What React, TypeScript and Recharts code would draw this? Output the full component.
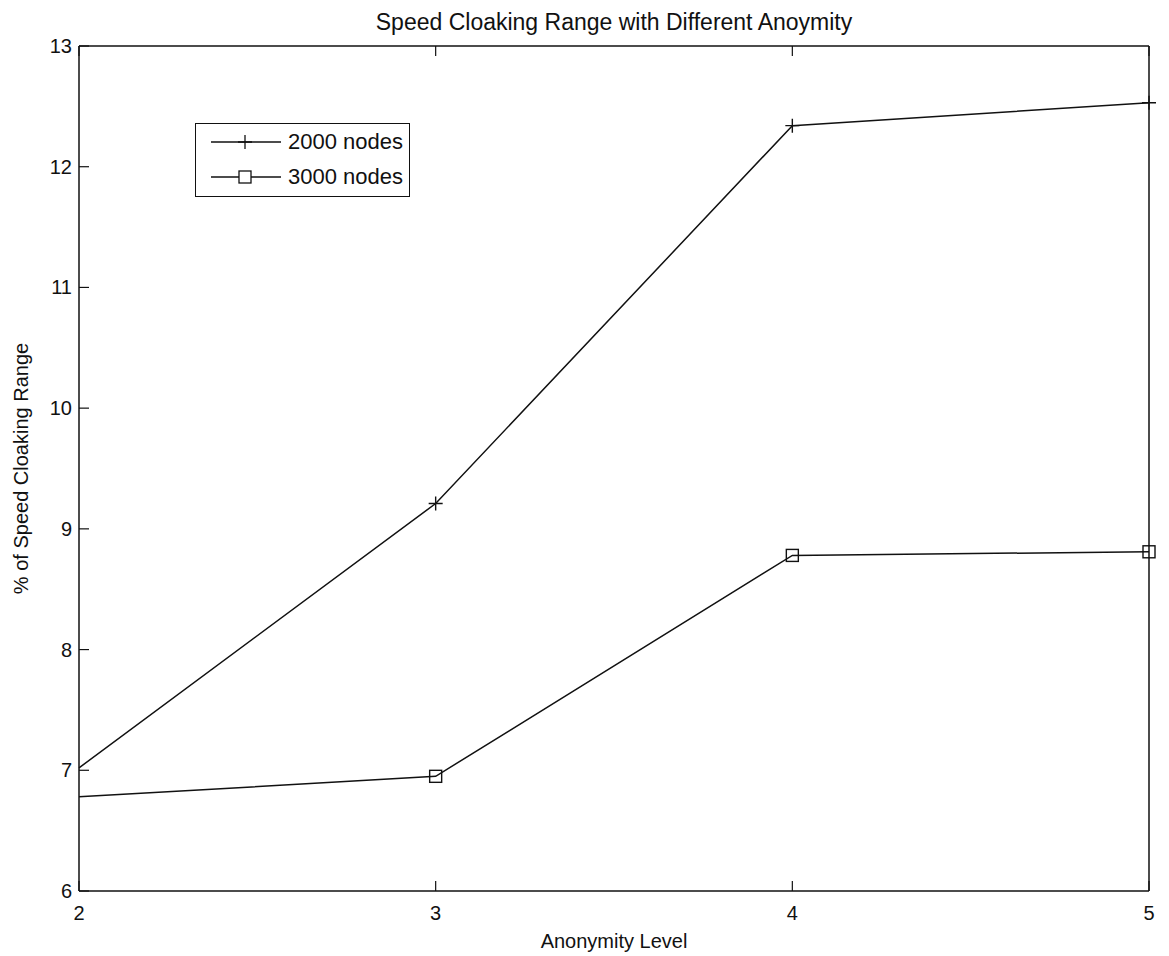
import { LineChart, Line, XAxis, YAxis } from 'recharts';

const levels = [2, 3, 4, 5];
const nodes2000 = [7.02, 9.21, 12.34, 12.53];
const nodes3000 = [6.78, 6.95, 8.78, 8.81];
const xTicks = [2, 3, 4, 5];
const yTicks = [6, 7, 8, 9, 10, 11, 12, 13];

const data = levels.map((lvl, i) => ({ lvl, n2000: nodes2000[i], n3000: nodes3000[i] }));

const FONT = 'Arial, "Liberation Sans", Helvetica, sans-serif';
const INK = '#111';
const TICK = 10;

// MATLAB style: ticks point into the plot box
const BottomTick = ({ x, y, payload }: any) => (
   <g>
      <line x1={x} y1={y} x2={x} y2={y - TICK} stroke={INK} strokeWidth={1.2} />
      <text x={x} y={y + 29} textAnchor="middle" fontSize={20} fontFamily={FONT} fill={INK}>
         {payload.value}
      </text>
   </g>
);

const TopTick = ({ x, y }: any) => (
   <line x1={x} y1={y} x2={x} y2={y + TICK} stroke={INK} strokeWidth={1.2} />
);

const LeftTick = ({ x, y, payload }: any) => (
   <g>
      <line x1={x} y1={y} x2={x + TICK} y2={y} stroke={INK} strokeWidth={1.2} />
      <text x={x - 7} y={y + 7} textAnchor="end" fontSize={20} fontFamily={FONT} fill={INK}>
         {payload.value}
      </text>
   </g>
);

const RightTick = ({ x, y }: any) => (
   <line x1={x} y1={y} x2={x - TICK} y2={y} stroke={INK} strokeWidth={1.2} />
);

const plusDot = (p: any) => {
   if (p.index === 0) return <g key={p.index} />;
   return (
      <path
         key={p.index}
         d={`M${p.cx - 7},${p.cy}H${p.cx + 7}M${p.cx},${p.cy - 7}V${p.cy + 7}`}
         stroke={INK}
         strokeWidth={1.4}
         fill="none"
      />
   );
};

const squareDot = (p: any) => {
   if (p.index === 0) return <g key={p.index} />;
   return (
      <rect key={p.index} x={p.cx - 6} y={p.cy - 6} width={12} height={12} stroke={INK} strokeWidth={1.4} fill="none" />
   );
};

const TitleLabel = ({ viewBox }: any) => (
   <text x={viewBox.x + viewBox.width / 2} y={viewBox.y - 15} textAnchor="middle" fontSize={23} fontFamily={FONT} fill={INK}>
      Speed Cloaking Range with Different Anoymity
   </text>
);

const XLabel = ({ viewBox }: any) => (
   <text x={viewBox.x + viewBox.width / 2} y={viewBox.y + 57} textAnchor="middle" fontSize={20} fontFamily={FONT} fill={INK}>
      Anonymity Level
   </text>
);

const YLabel = ({ viewBox }: any) => (
   <text
      transform={`translate(${viewBox.x - 57},${viewBox.y + viewBox.height / 2}) rotate(-90)`}
      textAnchor="middle"
      dominantBaseline="central"
      fontSize={20}
      fontFamily={FONT}
      fill={INK}
   >
      % of Speed Cloaking Range
   </text>
);

function LegendBox() {
   const row = (label: string, marker: 'plus' | 'square', top: number) => (
      <div style={{ position: 'absolute', left: 0, top, height: 24, display: 'flex', alignItems: 'center' }}>
         <svg width={92} height={24} style={{ flex: 'none' }}>
            <line x1={15} y1={12} x2={85} y2={12} stroke={INK} strokeWidth={1.3} />
            {marker === 'plus' ? (
               <path d="M49,5V19M42,12H56" stroke={INK} strokeWidth={1.3} />
            ) : (
               <rect x={43} y={6} width={12} height={12} stroke={INK} strokeWidth={1.3} fill="white" />
            )}
         </svg>
         <span style={{ fontSize: 22, fontFamily: FONT, color: INK, whiteSpace: 'nowrap' }}>{label}</span>
      </div>
   );
   return (
      <div
         style={{
            position: 'absolute',
            left: 195,
            top: 123,
            width: 215,
            height: 74,
            boxSizing: 'border-box',
            border: `1.5px solid ${INK}`,
            background: 'white',
         }}
      >
         {row('2000 nodes', 'plus', 6)}
         {row('3000 nodes', 'square', 41)}
      </div>
   );
}

export default function App() {
   return (
      <div style={{ position: 'absolute', left: 0, top: 0, width: 1169, height: 956, background: 'white' }}>
         <LineChart width={1169} height={956} data={data} margin={{ top: 45, right: 19, bottom: 64, left: 78 }}>
            <XAxis
               xAxisId="bottom"
               dataKey="lvl"
               type="number"
               domain={[2, 5]}
               ticks={xTicks}
               height={1}
               tickSize={0}
               tickMargin={0}
               tickLine={false}
               tick={<BottomTick />}
               axisLine={{ stroke: INK, strokeWidth: 1.5 }}
               label={(p: any) => <XLabel viewBox={p.viewBox} />}
            />
            <XAxis
               xAxisId="top"
               orientation="top"
               dataKey="lvl"
               type="number"
               domain={[2, 5]}
               ticks={xTicks}
               height={1}
               tickSize={0}
               tickMargin={0}
               tickLine={false}
               tick={<TopTick />}
               axisLine={{ stroke: INK, strokeWidth: 1.5 }}
               label={(p: any) => <TitleLabel viewBox={p.viewBox} />}
            />
            <YAxis
               yAxisId="left"
               type="number"
               domain={[6, 13]}
               ticks={yTicks}
               width={1}
               tickSize={0}
               tickMargin={0}
               tickLine={false}
               tick={<LeftTick />}
               axisLine={{ stroke: INK, strokeWidth: 1.5 }}
               label={(p: any) => <YLabel viewBox={p.viewBox} />}
            />
            <YAxis
               yAxisId="right"
               orientation="right"
               type="number"
               domain={[6, 13]}
               ticks={yTicks}
               width={1}
               tickSize={0}
               tickMargin={0}
               tickLine={false}
               tick={<RightTick />}
               axisLine={{ stroke: INK, strokeWidth: 1.5 }}
            />
            <Line
               xAxisId="bottom"
               yAxisId="left"
               type="linear"
               dataKey="n2000"
               stroke={INK}
               strokeWidth={1.5}
               dot={plusDot}
               isAnimationActive={false}
            />
            <Line
               xAxisId="bottom"
               yAxisId="left"
               type="linear"
               dataKey="n3000"
               stroke={INK}
               strokeWidth={1.5}
               dot={squareDot}
               isAnimationActive={false}
            />
         </LineChart>
         <LegendBox />
      </div>
   );
}
